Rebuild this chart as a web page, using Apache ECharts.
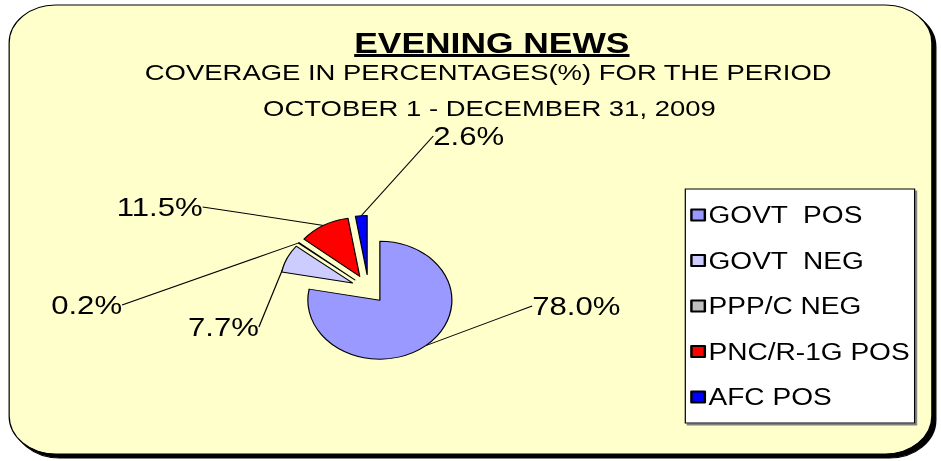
<!DOCTYPE html>
<html>
<head>
<meta charset="utf-8">
<script src="https://cdn.jsdelivr.net/npm/echarts@6/dist/echarts.min.js"></script>
<style>
  html, body { margin: 0; padding: 0; background: #ffffff; overflow: hidden; }
  /* the original chart was stretched sideways, so draw narrow and widen */
  #chart { width: 771px; height: 461px; transform: scaleX(1.2205); transform-origin: 0 0; }
</style>
</head>
<body>
<div id="chart"></div>
<script>
// data
const categories = ["GOVT  POS", "GOVT  NEG", "PPP/C NEG", "PNC/R-1G POS", "AFC POS"];
const values = [78.0, 7.7, 0.2, 11.5, 2.6];
const colors = ["#9999FF", "#CCCCFF", "#C0C0C0", "#FF0000", "#0000FF"];

const titleText = "EVENING NEWS";
const subtitleLines = ["COVERAGE IN PERCENTAGES(%) FOR THE PERIOD", "OCTOBER 1 - DECEMBER 31, 2009"];

// where each percentage label sits (layout only, unstretched px)
const labelSpots = [
  { x: 430, y: 306, align: "left" },
  { x: 148, y: 327, align: "left" },
  { x: 106, y: 305, align: "right" },
  { x: 172, y: 207, align: "right" },
  { x: 349, y: 136, align: "left" }
];

const font = "'Liberation Sans', Arial, sans-serif";
const pieCenter = [302, 289];
const pieRadius = 59;
const explode = 14.5;

// width of the title, for the underline
const ctx = document.createElement("canvas").getContext("2d");
ctx.font = "bold 29px 'Liberation Sans'";
const titleWidth = ctx.measureText(titleText).width;
const titleX = 403;

const chart = echarts.init(document.getElementById("chart"), null, { renderer: "svg" });

// every slice is pulled out along its own middle angle
const total = values.reduce((a, b) => a + b, 0);
let before = 0;
const pieSeries = values.map((v, i) => {
  const mid = (before + v / 2) / total * Math.PI * 2;
  before += v;
  return {
    type: "pie",
    center: [pieCenter[0] + explode * Math.sin(mid), pieCenter[1] - explode * Math.cos(mid)],
    radius: pieRadius,
    startAngle: 90,
    clockwise: true,
    silent: true,
    avoidLabelOverlap: false,
    emphasis: { disabled: true },
    label: {
      show: true,
      position: "outside",
      formatter: p => p.value.toFixed(1) + "%",
      fontFamily: font,
      fontSize: 25.5,
      color: "#000000",
      padding: [0, 6]
    },
    labelLine: {
      show: true,
      length: 10,
      length2: 0,
      lineStyle: { color: "#000000", width: 1 }
    },
    labelLayout: p => {
      const s = labelSpots[p.dataIndex];
      return { x: s.x, y: s.y, align: s.align, verticalAlign: "middle" };
    },
    data: values.map((w, j) => j === i
      ? { name: categories[j], value: w, itemStyle: { color: colors[j], borderColor: "#000000", borderWidth: 1 } }
      : { name: "", value: w, itemStyle: { color: "rgba(0,0,0,0)", borderWidth: 0 }, label: { show: false }, labelLine: { show: false } })
  };
});

const option = {
  animation: false,
  graphic: [
    {
      type: "rect",
      z: -10,
      shape: { x: 7.5, y: 5, width: 756, height: 449, r: 38 },
      style: {
        fill: "#FFFFCC",
        stroke: "#000000",
        lineWidth: 1,
        shadowColor: "#000000",
        shadowOffsetX: 3.3,
        shadowOffsetY: 4,
        shadowBlur: 0
      }
    },
    {
      type: "text",
      style: { x: titleX, y: 43, text: titleText, align: "center", verticalAlign: "middle",
        font: "bold 29px " + font, fill: "#000000" }
    },
    {
      type: "rect",
      shape: { x: titleX - titleWidth / 2, y: 54, width: titleWidth, height: 3 },
      style: { fill: "#000000" }
    },
    {
      type: "text",
      style: { x: 400, y: 72, text: subtitleLines[0], align: "center", verticalAlign: "middle",
        font: "22.5px " + font, fill: "#000000" }
    },
    {
      type: "text",
      style: { x: 401, y: 108, text: subtitleLines[1], align: "center", verticalAlign: "middle",
        font: "22.5px " + font, fill: "#000000" }
    }
  ],
  legend: {
    orient: "vertical",
    left: 561.5,
    top: 189,
    data: categories,
    backgroundColor: "#ffffff",
    borderColor: "#000000",
    borderWidth: 1,
    borderRadius: 0,
    shadowColor: "#808080",
    shadowOffsetX: 1.6,
    shadowOffsetY: 2,
    shadowBlur: 0,
    padding: [11, 4, 11, 4],
    itemWidth: 11,
    itemHeight: 11,
    itemGap: 15.5,
    icon: "rect",
    selectedMode: false,
    textStyle: { fontFamily: font, fontSize: 23, color: "#000000", lineHeight: 30, padding: [0, 0, 0, -2] }
  },
  series: pieSeries
};

chart.setOption(option);
</script>
</body>
</html>
